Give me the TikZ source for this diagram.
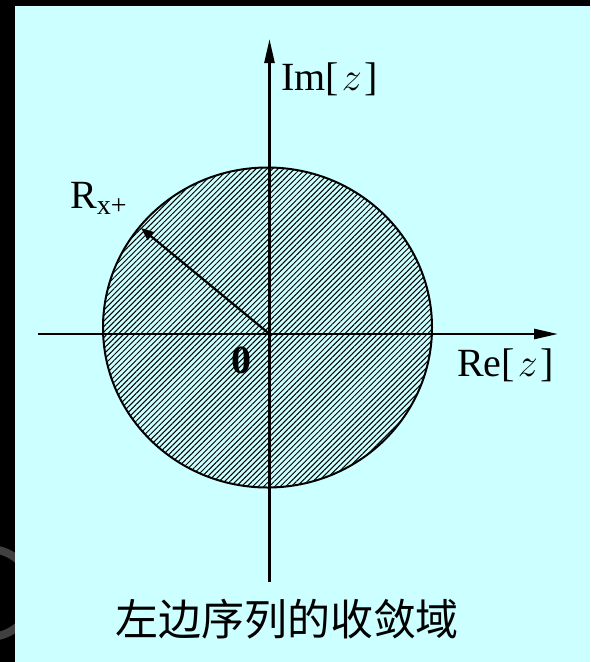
\RequirePackage{fix-cm}
\documentclass[tikz,border=0pt]{standalone}
\usepackage{fontspec}
\setmainfont{Liberation Serif}
\newfontfamily\cjk{Noto Sans CJK SC}
\usetikzlibrary{patterns.meta,arrows.meta}
\definecolor{bgcyan}{HTML}{CCFFFF}
\definecolor{ringgray}{HTML}{404040}
\newcommand{\zvar}{\kern3pt\ensuremath{z}\kern3pt}
\begin{document}
\begin{tikzpicture}[x=1pt,y=-1pt,
  axis/.style={line width=2.5pt,-{Triangle[length=24pt,width=10pt]}},
  radarrow/.style={line width=2.2pt,-{Triangle[length=13pt,width=10pt]}},
  lbl/.style={font=\fontsize{40}{42}\selectfont,inner sep=0pt,anchor=base west}]
\useasboundingbox (0,0) rectangle (590,662);
\fill[black] (0,0) rectangle (590,662);
\begin{scope}
\clip (0,0) rectangle (15,662);
\draw[ringgray,line width=8pt] (-11,593) circle[radius=44];
\end{scope}
\fill[bgcyan] (15,6) rectangle (590,662);
% region of convergence
\fill[pattern={Lines[angle=45,distance=3.9pt,line width=1pt]},pattern color=black]
  (267.5,327.5) ellipse[x radius=164.5,y radius=160];
\draw[line width=2pt] (267.5,327.5) ellipse[x radius=164.5,y radius=160];
% axes
\coordinate (O) at (269.5,334);
\coordinate (xl) at (38,334);
\coordinate (xr) at (558,334);
\coordinate (yb) at (269.5,582);
\coordinate (yt) at (269.5,39);
\coordinate (Rt) at (141,228);
\draw[axis] (xl) -- (xr);
\draw[axis] (yb) -- (yt);
\draw[radarrow] (O) -- (Rt);
% labels
\node[lbl] (im) at (281,90) {Im[\zvar]};
\node[lbl] (re) at (457,376) {Re[\zvar]};
\node[lbl] (r) at (70,208) {R\textsubscript{x+}};
\node[lbl] (zero) at (231,373) {\textbf{0}};
\node[font=\cjk\fontsize{43}{45}\selectfont,inner sep=0pt] (cap) at (287,619) {左边序列的收敛域};
\end{tikzpicture}
\end{document}
